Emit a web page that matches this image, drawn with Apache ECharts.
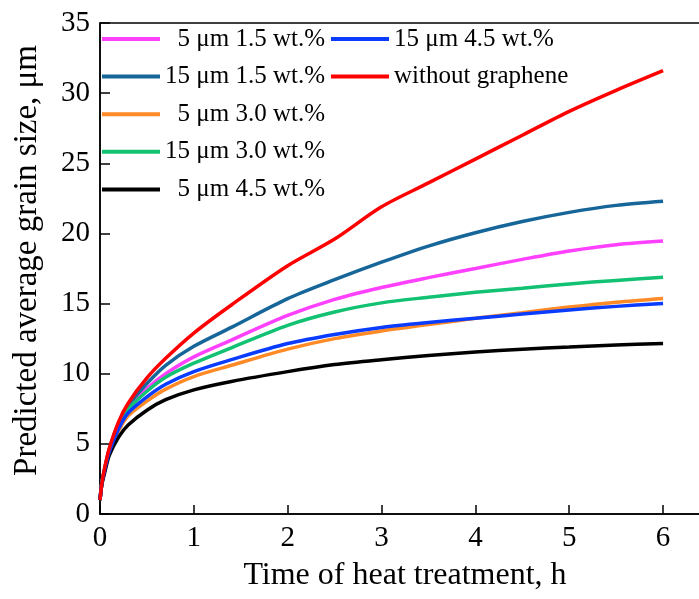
<!DOCTYPE html>
<html>
<head>
<meta charset="utf-8">
<script src="https://cdn.jsdelivr.net/npm/echarts@6/dist/echarts.min.js"></script>
<style>
  html, body { margin: 0; padding: 0; background: #fff; }
  #chart { width: 699px; height: 599px; }
</style>
</head>
<body>
<div id="chart"></div>
<script>
// time of heat treatment, h
const hours = [0, 0.02, 0.05, 0.1, 0.2, 0.3, 0.5, 0.7, 1.0, 1.4, 2.0, 2.5, 3.0, 3.5, 4.0, 4.5, 5.0, 5.5, 6.0]

// predicted average grain size, um
const noGraphene = [1.0, 2.2, 3.3, 4.7, 6.6, 7.9, 9.7, 11.1, 12.9, 14.9, 17.7, 19.6, 21.9, 23.6, 25.3, 27.0, 28.7, 30.2, 31.6]
const g15w15 = [1.0, 2.2, 3.25, 4.65, 6.5, 7.75, 9.3, 10.6, 11.95, 13.3, 15.35, 16.7, 17.95, 19.1, 20.05, 20.85, 21.5, 22.0, 22.3]
const g5w15 = [1.0, 2.2, 3.2, 4.6, 6.4, 7.6, 8.95, 10.0, 11.2, 12.4, 14.15, 15.3, 16.15, 16.85, 17.5, 18.15, 18.75, 19.2, 19.46]
const g15w30 = [1.0, 2.2, 3.2, 4.55, 6.3, 7.45, 8.75, 9.75, 10.75, 11.85, 13.45, 14.4, 15.05, 15.45, 15.8, 16.1, 16.4, 16.65, 16.87]
const g15w45 = [1.0, 2.2, 3.15, 4.45, 6.1, 7.2, 8.35, 9.25, 10.15, 11.0, 12.15, 12.8, 13.3, 13.65, 13.95, 14.25, 14.55, 14.8, 15.0]
const g5w30 = [1.0, 2.2, 3.1, 4.4, 5.95, 7.0, 8.05, 8.9, 9.8, 10.6, 11.75, 12.5, 13.05, 13.5, 13.95, 14.35, 14.75, 15.1, 15.37]
const g5w45 = [1.0, 2.1, 2.95, 4.2, 5.5, 6.35, 7.4, 8.15, 8.85, 9.45, 10.15, 10.65, 11.0, 11.3, 11.55, 11.75, 11.9, 12.05, 12.15]

const xTicks = [0, 1, 2, 3, 4, 5, 6]
const yTicks = [0, 5, 10, 15, 20, 25, 30, 35]

const font = '"Liberation Serif", "Times New Roman", serif'

const curves = [
  { name: '5 μm 1.5 wt.%', data: g5w15, color: '#ff40ff' },
  { name: '15 μm 1.5 wt.%', data: g15w15, color: '#17669a' },
  { name: '5 μm 3.0 wt.%', data: g5w30, color: '#ff8a26' },
  { name: '15 μm 3.0 wt.%', data: g15w30, color: '#12c272' },
  { name: '5 μm 4.5 wt.%', data: g5w45, color: '#000000' },
  { name: '15 μm 4.5 wt.%', data: g15w45, color: '#0a3cff' },
  { name: 'without graphene', data: noGraphene, color: '#ff0000' }
]

const myChart = echarts.init(document.getElementById('chart'))

const legendBase = {
  orient: 'vertical',
  top: 26.5,
  padding: 0,
  itemGap: 12.6,
  itemWidth: 58,
  itemHeight: 4,
  icon: 'rect',
  selectedMode: false,
  textStyle: { color: '#000', fontFamily: font, fontSize: 25, lineHeight: 25 }
}

const option = {
  animation: false,
  backgroundColor: '#fff',
  grid: {
    left: 100, top: 23, width: 610, height: 491,
    outerBoundsMode: 'none', containLabel: false,
    show: true, borderColor: '#000', borderWidth: 1.5
  },
  legend: [
    Object.assign({}, legendBase, {
      left: 102,
      data: curves.slice(0, 5).map(c => c.name),
      formatter: name => '{r|' + name + '}',
      textStyle: {
        color: '#000', fontFamily: font, fontSize: 25, lineHeight: 25,
        rich: { r: { width: 160, align: 'right', fontFamily: font, fontSize: 25, lineHeight: 25, color: '#000' } }
      }
    }),
    Object.assign({}, legendBase, {
      left: 331,
      data: curves.slice(5).map(c => c.name)
    })
  ],
  xAxis: {
    type: 'value',
    min: xTicks[0],
    max: 6.5,
    interval: 1,
    name: 'Time of heat treatment, h',
    nameLocation: 'middle',
    nameGap: 46,
    nameTextStyle: { color: '#000', fontFamily: font, fontSize: 32 },
    axisLine: { show: true, lineStyle: { color: '#000', width: 1.5 } },
    axisTick: { show: true, inside: true, length: 9, lineStyle: { color: '#000', width: 1.5 } },
    axisLabel: {
      color: '#000', fontFamily: font, fontSize: 29, margin: 10, showMaxLabel: false,
      formatter: v => (xTicks.includes(v) ? String(v) : '')
    },
    splitLine: { show: false }
  },
  yAxis: {
    type: 'value',
    min: yTicks[0],
    max: yTicks[yTicks.length - 1],
    interval: 5,
    name: 'Predicted average grain size, μm',
    nameLocation: 'middle',
    nameGap: 56,
    nameTextStyle: { color: '#000', fontFamily: font, fontSize: 33, padding: [0, 0, 0, 16] },
    axisLine: { show: true, lineStyle: { color: '#000', width: 1.5 } },
    axisTick: { show: true, inside: true, length: 10, lineStyle: { color: '#000', width: 1.5 } },
    axisLabel: { color: '#000', fontFamily: font, fontSize: 29, margin: 10 },
    splitLine: { show: false }
  },
  series: curves.map(c => ({
    name: c.name,
    type: 'line',
    smooth: 0.3,
    showSymbol: false,
    color: c.color,
    lineStyle: { color: c.color, width: 3.5 },
    data: hours.map((h, i) => [h, c.data[i]])
  }))
}

myChart.setOption(option)
window.addEventListener('resize', () => myChart.resize())
</script>
</body>
</html>
